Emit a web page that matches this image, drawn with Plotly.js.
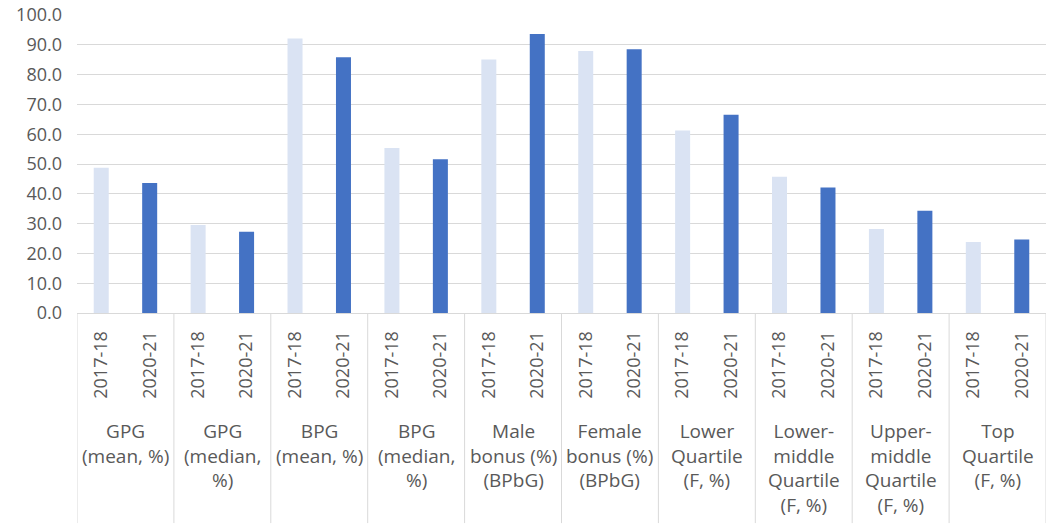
<!DOCTYPE html>
<html>
<head>
<meta charset="utf-8">
<script src="https://cdn.plot.ly/plotly-3.0.1.min.js"></script>
<style>html,body{margin:0;padding:0;background:#fff;}#chart{width:1046px;height:526px;}</style>
</head>
<body>
<div id="chart"></div>
<script>
const groups = ["GPG<br>(mean, %)", "GPG<br>(median,<br>%)", "BPG<br>(mean, %)", "BPG<br>(median,<br>%)",
  "Male<br>bonus (%)<br>(BPbG)", "Female<br>bonus (%)<br>(BPbG)", "Lower<br>Quartile<br>(F, %)",
  "Lower-<br>middle<br>Quartile<br>(F, %)", "Upper-<br>middle<br>Quartile<br>(F, %)", "Top<br>Quartile<br>(F, %)"];
const years = ["2017-18", "2020-21"];
const values2017 = [48.7, 29.5, 92.1, 55.4, 85.1, 87.9, 61.2, 45.7, 28.2, 23.8];
const values2020 = [43.6, 27.3, 85.8, 51.6, 93.6, 88.5, 66.5, 42.1, 34.3, 24.7];

const txtColor = "#595959";
const gridColor = "#d9d9d9";
const font = "Open Sans, Noto Sans, sans-serif";

const x17 = groups.map((g, i) => i * 2);
const x20 = groups.map((g, i) => i * 2 + 1);
const tickvals = [], ticktext = [];
groups.forEach((g, i) => { years.forEach((y, j) => { tickvals.push(i * 2 + j); ticktext.push(y); }); });

const traces = [
  {type: "bar", x: x17, y: values2017, name: years[0], width: 0.31, marker: {color: "#dae3f3"}, hoverinfo: "y"},
  {type: "bar", x: x20, y: values2020, name: years[1], width: 0.31, marker: {color: "#4472c4"}, hoverinfo: "y"}
];

const shapes = [];
for (let i = 0; i <= groups.length; i++) {
  shapes.push({type: "line", xref: "x", yref: "paper", x0: i * 2 - 0.5, x1: i * 2 - 0.5, y0: 0, y1: -0.705,
    line: {color: gridColor, width: 1}});
}
const annotations = groups.map((g, i) => ({
  xref: "x", yref: "paper", x: i * 2 + 0.5, y: -0.345, yanchor: "top", xanchor: "center",
  text: g, showarrow: false, align: "center", font: {family: font, size: 19, color: txtColor}
}));

const layout = {
  width: 1046, height: 526,
  margin: {l: 77, r: 0, t: 15, b: 213},
  paper_bgcolor: "#ffffff", plot_bgcolor: "#ffffff",
  showlegend: false,
  barmode: "overlay",
  xaxis: {
    range: [-0.5, groups.length * 2 - 0.5], tickvals: tickvals, ticktext: ticktext, tickangle: -90,
    showgrid: false, zeroline: false, showline: true, linecolor: gridColor, linewidth: 1,
    ticks: "", ticklabelstandoff: 10,
    tickfont: {family: font, size: 18, color: txtColor}
  },
  yaxis: {
    range: [0, 100], tickvals: [0, 10, 20, 30, 40, 50, 60, 70, 80, 90, 100], tickformat: ".1f",
    showgrid: true, gridcolor: gridColor, gridwidth: 1, zeroline: false, showline: false,
    ticks: "", ticklabelstandoff: 14,
    tickfont: {family: font, size: 18, color: txtColor}
  },
  shapes: shapes,
  annotations: annotations
};

Plotly.newPlot("chart", traces, layout, {displayModeBar: false, staticPlot: true});
</script>
</body>
</html>
